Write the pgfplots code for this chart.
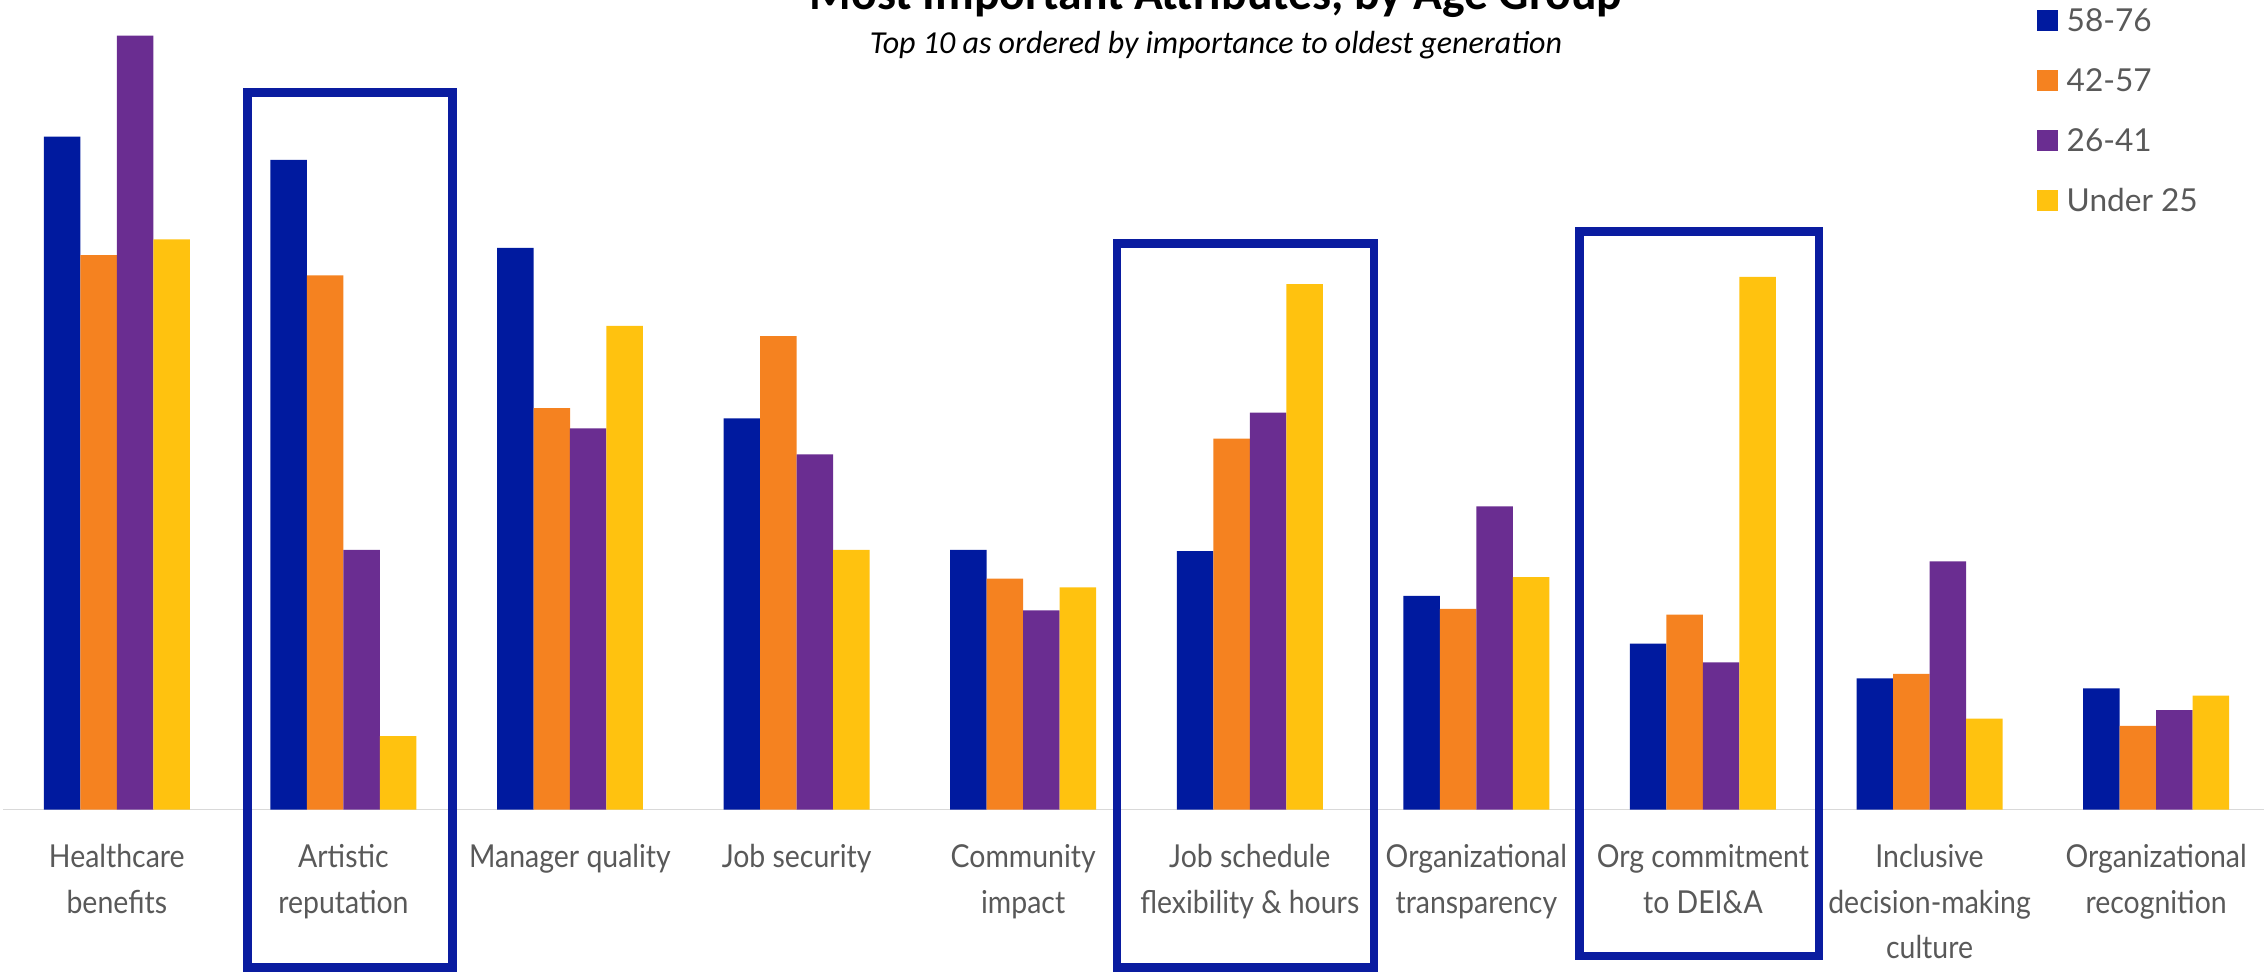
\documentclass[border=0pt]{standalone}
\usepackage{pgfplots}
\pgfplotsset{compat=1.18}
\usepackage{pgfplotstable}
\usepackage{fontspec}
\setmainfont{Lato}
\newfontfamily\labfont[FakeStretch=0.9]{Lato}
\newfontfamily\legfont{Lato}
\newfontfamily\titlefont{Carlito}
\definecolor{cblue}{HTML}{001A9F}
\definecolor{corange}{HTML}{F58220}
\definecolor{cpurple}{HTML}{6A2D91}
\definecolor{cyellow}{HTML}{FFC20F}
\definecolor{boxblue}{HTML}{0A1CA0}
\definecolor{txtgrey}{HTML}{595959}
\definecolor{lgrey}{HTML}{D9D9D9}

\pgfplotstableread{
x b o p y
0 466 384 536 395
1 450 370 180 51
2 389 278 264 335
3 271 328 246 180
4 180 160 138 154
5 179 257 275 364
6 148 139 210 161
7 115 135 102 369
8 91 94 172 63
9 84 58 69 79
}\datatable

\begin{document}
\begin{tikzpicture}
\begin{scope}
\clip (0,0) rectangle (566pt,243.25pt);
\begin{axis}[
  at={(0pt,40.825pt)}, anchor=south west,
  scale only axis, width=566pt, height=202.425pt,
  xmin=-0.5155, xmax=9.476, ymin=0, ymax=560.7,
  clip=false,
  axis line style={draw=none},
  tick style={draw=none},
  ytick=\empty,
  xtick={0,...,9},
  xticklabels={{Healthcare\\benefits},{Artistic\\reputation},{Manager quality},{Job security},{Community\\impact},{Job schedule\\flexibility \& hours},{Organizational\\transparency},{Org commitment\\to DEI\&A},{Inclusive\\decision-making\\culture},{Organizational\\recognition}},
  xticklabel style={align=center, anchor=north, inner sep=0pt, yshift=-8.5pt, text=txtgrey, font=\labfont\fontsize{7.9}{11.4}\selectfont},
  bar width=0.1611,
  legend cell align=left,
  legend image code/.code={\fill[#1] (0pt,-2.6pt) rectangle (5.25pt,2.65pt); \path (7.5pt,0pt);},
  legend style={at={(axis cs:8.473,554.5)}, anchor=north west, draw=none, fill=none,
    inner sep=0pt, outer sep=0pt, row sep=9.3pt,
    font=\legfont\fontsize{7.9}{9}\selectfont, text=txtgrey,
    nodes={inner sep=0pt, text height=5.7pt, text depth=0pt}},
]
\draw[draw=lgrey, line width=0.4pt] (axis cs:-0.501,0) -- (axis cs:9.476,0);
\addplot[ybar, fill=cblue, draw=none, bar shift=-0.2416] table[x=x,y=b] {\datatable};
\addlegendentry{58-76}
\addplot[ybar, fill=corange, draw=none, bar shift=-0.0805] table[x=x,y=o] {\datatable};
\addlegendentry{42-57}
\addplot[ybar, fill=cpurple, draw=none, bar shift=0.0805] table[x=x,y=p] {\datatable};
\addlegendentry{26-41}
\addplot[ybar, fill=cyellow, draw=none, bar shift=0.2416] table[x=x,y=y] {\datatable};
\addlegendentry{Under 25}
\draw[boxblue, line width=2.1pt] (axis cs:0.5768,-109.3) rectangle (axis cs:1.4815,496.7);
\draw[boxblue, line width=2.1pt] (axis cs:4.4148,-109.3) rectangle (axis cs:5.548,392.1);
\draw[boxblue, line width=2.1pt] (axis cs:6.455,-101.3) rectangle (axis cs:7.512,400.4);
\end{axis}
\node[anchor=base, font=\titlefont\bfseries\fontsize{11.9}{13}\selectfont] at (304pt,240.75pt) {Most Important Attributes, by Age Group};
\node[anchor=base, font=\titlefont\itshape\fontsize{8.0}{9}\selectfont] at (304pt,229.9pt) {Top 10 as ordered by importance to oldest generation};
\end{scope}
\pgfresetboundingbox
\useasboundingbox (0,0) rectangle (566pt,243.25pt);
\end{tikzpicture}
\end{document}
